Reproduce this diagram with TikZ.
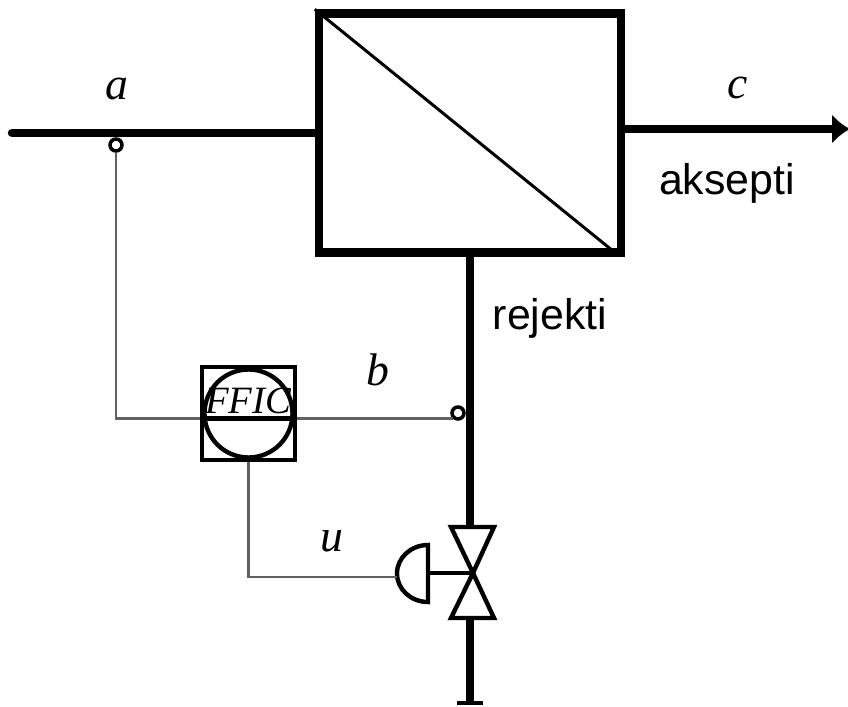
\documentclass[tikz,border=0pt]{standalone}
\usepackage{fontspec}
\setmainfont{Liberation Serif}
\setsansfont{Liberation Sans}
\usetikzlibrary{arrows.meta,calc}

\begin{document}
\begin{tikzpicture}[
        font=\fontsize{12.5pt}{14pt}\selectfont,
        pipe/.style={line width=2.4pt, black},
        signal/.style={line width=0.8pt, black!62},
        thinpart/.style={line width=1.25pt, black},
        tap/.style={circle, draw=black, fill=white, line width=1pt,
                    minimum size=0.12cm, inner sep=0pt},
        lab/.style={font=\fontsize{13pt}{15pt}\selectfont\itshape},
        stream/.style={font=\fontsize{12.2pt}{14pt}\selectfont\sffamily},
      ]
        \useasboundingbox (0,0) rectangle (8.48,7.06);

        % membrane unit
        \node[draw, pipe, minimum width=3.02cm, minimum height=2.39cm, inner sep=0pt]
          (membrane) at (4.70,5.73) {};
        \draw[line width=0.85pt] (membrane.north west) -- ($(membrane.south east)+(-0.1,0.04)$);

        % valve and actuator
        \coordinate (valve) at (4.73,1.33);
        \coordinate (valvetop) at (4.70,1.79);
        \coordinate (valvebot) at (4.70,0.88);
        \draw[thinpart, line join=miter] (valve) -- (4.51,1.79) -- (4.94,1.79) -- cycle;
        \draw[thinpart, line join=miter] (valve) -- (4.51,0.88) -- (4.94,0.88) -- cycle;
        \coordinate (act) at (4.28,1.33);
        \coordinate (actin) at (3.97,1.29);
        \draw[thinpart] (4.28,1.61) arc[start angle=90, end angle=270,
          x radius=0.31, y radius=0.285] -- cycle;
        \draw[thinpart] (act) -- (valve);

        % streams
        \coordinate (feedin) at (0.12,5.73);
        \coordinate (outlet) at (8.50,5.77);
        \coordinate (pipeend) at (4.70,0.03);
        \draw[pipe, line cap=round] (feedin) -- (feedin -| membrane.west);
        \draw[pipe, -{Latex[length=0.18cm,width=0.3cm]}] (outlet -| membrane.east) -- (outlet);
        \draw[pipe] (valvetop |- membrane.south) -- (valvetop);
        \draw[pipe] (valvebot) -- (pipeend);
        \draw[thinpart] ($(pipeend)+(-0.13,0)$) -- ($(pipeend)+(0.13,0)$);

        % controller
        \node[tap] (tapa) at (1.16,5.61) {};
        \node[tap] (tapb) at (4.58,2.93) {};
        \node[draw, thinpart, minimum size=0.93cm, inner sep=0pt] (ffbox) at (2.485,2.925) {};
        \node[circle, draw, thinpart, minimum size=0.88cm, inner sep=0pt] (ffcirc) at (2.485,2.925) {};
        \draw[thinpart] (ffcirc.west |- tapb.south west) -- (ffcirc.east |- tapb.south west);
        \node[font=\fontsize{11pt}{13pt}\selectfont\itshape, inner sep=0pt]
          (fflabel) at (2.48,3.05) {FFIC};

        % signal lines
        \draw[signal] (tapa) |- (ffbox.west |- tapb.south west);
        \draw[signal] (ffbox.east |- tapb.south west) -- (tapb.south west);
        \draw[signal] (ffbox.south) |- (actin);

        % labels
        \node[lab] (laba) at (1.17,6.17) {a};
        \node[lab] (labb) at (3.78,3.36) {b};
        \node[lab] (labc) at (7.38,6.18) {c};
        \node[lab] (labu) at (3.32,1.65) {u};
        \node[stream] (aksepti) at (7.27,5.23) {aksepti};
        \node[stream] (rejekti) at (5.5,3.88) {rejekti};
      \end{tikzpicture}
\end{document}
